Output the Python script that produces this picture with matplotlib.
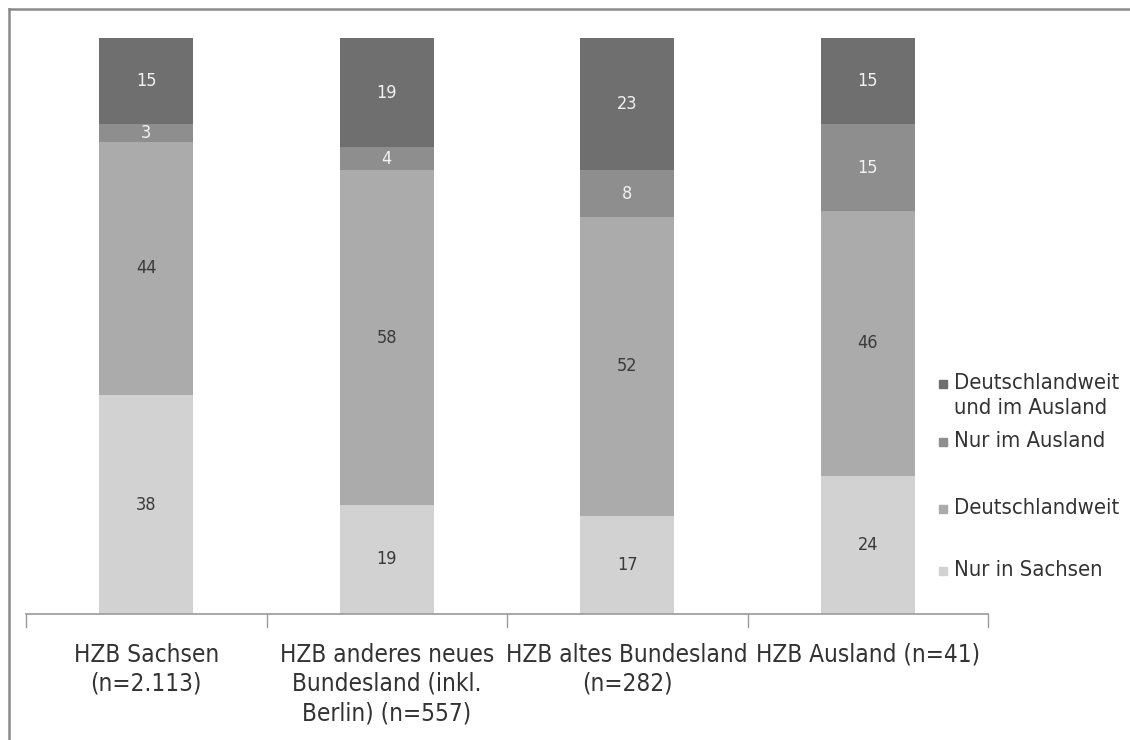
import matplotlib
matplotlib.use("Agg")
import matplotlib.pyplot as plt
from matplotlib.lines import Line2D
from matplotlib.patches import Rectangle

plt.rcParams["font.family"] = ["DejaVu Sans"]
plt.rcParams["font.stretch"] = "condensed"

# Data: share of respondents (%) by region of university entrance qualification
categories = [
    "HZB Sachsen\n(n=2.113)",
    "HZB anderes neues\nBundesland (inkl.\nBerlin) (n=557)",
    "HZB altes Bundesland\n(n=282)",
    "HZB Ausland (n=41)",
]
nur_in_sachsen = [38, 19, 17, 24]
deutschlandweit = [44, 58, 52, 46]
nur_im_ausland = [3, 4, 8, 15]
deutschlandweit_und_ausland = [15, 19, 23, 15]

series = [
    ("Nur in Sachsen", nur_in_sachsen, "#d2d2d2", "#3a3a3a"),
    ("Deutschlandweit", deutschlandweit, "#ababab", "#3a3a3a"),
    ("Nur im Ausland", nur_im_ausland, "#8e8e8e", "#f2f2f2"),
    ("Deutschlandweit\nund im Ausland", deutschlandweit_und_ausland, "#6f6f6f", "#f2f2f2"),
]

W, H = 1130, 740
fig = plt.figure(figsize=(W / 100, H / 100), dpi=100)
fig.patch.set_facecolor("white")

ax = fig.add_axes([26 / W, 1 - 614 / H, (988 - 26) / W, (614 - 38) / H])
ax.set_xlim(-0.5, len(categories) - 0.5)
ax.set_ylim(0, 100)

x = list(range(len(categories)))
bottom = [0] * len(categories)
for name, vals, color, tcolor in series:
    ax.bar(x, vals, width=0.39, bottom=bottom, color=color, edgecolor="none")
    for xi, b, v in zip(x, bottom, vals):
        ax.text(xi, b + v / 2, str(v), ha="center", va="center",
                fontsize=13, color=tcolor)
    bottom = [b + v for b, v in zip(bottom, vals)]

for s in ["top", "right", "left"]:
    ax.spines[s].set_visible(False)
ax.spines["bottom"].set_color("#9a9a9a")
ax.spines["bottom"].set_linewidth(1.2)
ax.set_yticks([])

# category separators below the baseline
ax.set_xticks([])
for b in [i - 0.5 for i in range(len(categories) + 1)]:
    ax.add_line(Line2D([b, b], [0, -2.2], color="#9a9a9a", lw=1.0, clip_on=False))

for xi, lab in zip(x, categories):
    ax.text(xi, -5.0, lab, ha="center", va="top", fontsize=17.5,
            color="#333333", linespacing=1.27)

# legend, drawn in figure pixels
legend_items = [
    ("Deutschlandweit\nund im Ausland", "#6f6f6f", 384),
    ("Nur im Ausland", "#8e8e8e", 442),
    ("Deutschlandweit", "#ababab", 509),
    ("Nur in Sachsen", "#d2d2d2", 571),
]
for label, color, ypix in legend_items:
    fig.patches.append(Rectangle((939 / W, 1 - (ypix + 4) / H), 8 / W, 8 / H,
                                 transform=fig.transFigure, color=color))
    fig.text(954 / W, 1 - (ypix - 11) / H, label, ha="left", va="top",
             fontsize=15.8, color="#333333", linespacing=1.3)

# outer frame (top and left edges)
fig.add_artist(Line2D([9 / W, 1], [1 - 9 / H, 1 - 9 / H], transform=fig.transFigure,
                      color="#8a8a8a", lw=1.8))
fig.add_artist(Line2D([9 / W, 9 / W], [0, 1 - 9 / H], transform=fig.transFigure,
                      color="#8a8a8a", lw=1.8))

fig.savefig("out.png", dpi=100, facecolor="white")
